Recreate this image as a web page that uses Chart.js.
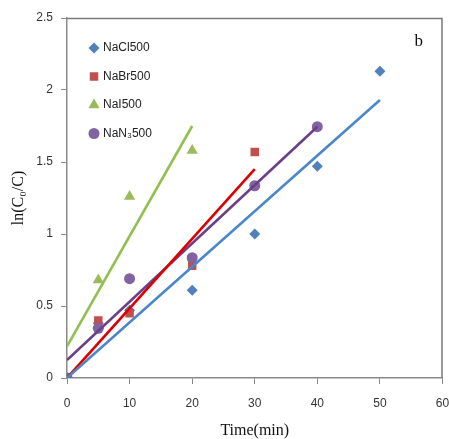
<!DOCTYPE html>
<html>
<head>
<meta charset="utf-8">
<script src="https://cdn.jsdelivr.net/npm/chart.js@4"></script>
<style>
  html, body { margin: 0; padding: 0; background: #fff; }
  #wrap { width: 449px; height: 439px; }
</style>
</head>
<body>
<div id="wrap"><canvas id="chart" width="449" height="439"></canvas></div>
<script>
// measured points, ln(C0/C) vs time
const seriesNames = ['NaCl500', 'NaBr500', 'NaI500', 'NaN\u2083500'];

const timeCl = [0, 5, 10, 20, 30, 40, 50];
const lnCl = [0, 0.38, 0.47, 0.61, 1.0, 1.47, 2.13];

const timeBr = [0, 5, 10, 20, 30];
const lnBr = [0, 0.40, 0.45, 0.78, 1.57];

const timeI = [0, 5, 10, 20];
const lnI = [0, 0.68, 1.26, 1.58];

const timeN3 = [0, 5, 10, 20, 30, 40];
const lnN3 = [0, 0.345, 0.69, 0.835, 1.335, 1.745];

// linear fits (end points)
const fitClX = [0, 50], fitClY = [0, 1.93];
const fitBrX = [0, 30], fitBrY = [0, 1.45];
const fitIX = [0, 20], fitIY = [0.22, 1.75];
const fitN3X = [0, 40], fitN3Y = [0.125, 1.745];

const xTickLabels = ['0', '10', '20', '30', '40', '50', '60'];
const yTickLabels = ['0', '0.5', '1', '1.5', '2', '2.5'];

const markerColors = ['#4F81BD', '#C0504D', '#9BBB59', '#8064A2'];
const lineColors = ['#4A86C8', '#DD0000', '#92C050', '#6B3F88'];
const markerStyles = ['rectRot', 'rect', 'triangle', 'circle'];
const markerSizes = [5.5, 6, 6.5, 5.5];

function pts(xs, ys) {
  return xs.map((x, i) => ({x: x, y: ys[i]}));
}

const markerData = [pts(timeCl, lnCl), pts(timeBr, lnBr), pts(timeI, lnI), pts(timeN3, lnN3)];
const fitData = [pts(fitClX, fitClY), pts(fitBrX, fitBrY), pts(fitIX, fitIY), pts(fitN3X, fitN3Y)];

var datasets = [];
for (i = 0; i < 4; i++) {
  datasets.push({
    label: seriesNames[i],
    data: markerData[i],
    showLine: false,
    pointStyle: markerStyles[i],
    pointRadius: markerSizes[i],
    pointBackgroundColor: markerColors[i],
    pointBorderColor: markerColors[i],
    pointBorderWidth: 0,
    order: 5 - i
  });
}
for (i = 0; i < 4; i++) {
  datasets.push({
    label: 'fit ' + seriesNames[i],
    data: fitData[i],
    showLine: true,
    borderColor: lineColors[i],
    borderWidth: 2.6,
    pointRadius: 0,
    order: 0
  });
}

// legend inside plot + "b" label + frame
const extras = {
  id: 'extras',
  afterDraw(chart) {
    const c = chart.ctx;
    const a = chart.chartArea;
    c.save();
    c.strokeStyle = '#7a7a7a';
    c.lineWidth = 1.5;
    c.beginPath();
    c.moveTo(a.left, a.top + 0.5);
    c.lineTo(a.right - 0.5, a.top + 0.5);
    c.lineTo(a.right - 0.5, a.bottom);
    c.stroke();

    c.font = '12px "Liberation Sans", Arial, sans-serif';
    c.textBaseline = 'middle';
    for (let k = 0; k < 4; k++) {
      const y = a.top + 30 + k * 28.5;
      c.fillStyle = markerColors[k];
      Chart.helpers.drawPoint(c, {pointStyle: markerStyles[k], radius: markerSizes[k], borderWidth: 0}, a.left + 27, y);
      c.fillStyle = '#222';
      c.fillText(seriesNames[k], a.left + 36, y);
    }

    c.font = '17px "Liberation Serif", "Times New Roman", serif';
    c.fillStyle = '#111';
    c.fillText('b', a.right - 28, a.top + 24);
    c.restore();
  }
};

const ctx = document.getElementById('chart').getContext('2d');
const chart = new Chart(ctx, {
  type: 'scatter',
  data: { datasets: datasets },
  options: {
    responsive: false,
    animation: false,
    layout: { padding: { left: 0, right: 5, top: 18, bottom: 0 } },
    plugins: {
      legend: { display: false },
      tooltip: { enabled: false }
    },
    scales: {
      x: {
        type: 'linear',
        min: 0,
        max: 60,
        afterFit: (scale) => { scale.height = 61; scale.paddingRight = 0; scale.paddingLeft = 0; },
        ticks: {
          stepSize: 10,
          padding: 12,
          color: '#333',
          font: { family: '"Liberation Sans", Arial, sans-serif', size: 12 },
          callback: (v) => xTickLabels[Math.round(v / 10)]
        },
        grid: { drawOnChartArea: false, tickLength: 6, color: '#8a8a8a' },
        border: { color: '#8a8a8a', width: 1.5 },
        title: {
          display: true,
          text: 'Time(min)',
          color: '#111',
          padding: { top: 0, bottom: 0 },
          font: { family: '"Liberation Serif", "Times New Roman", serif', size: 16, lineHeight: 1 }
        }
      },
      y: {
        min: 0,
        max: 2.5,
        afterFit: (scale) => { scale.width = 67; },
        ticks: {
          stepSize: 0.5,
          padding: 8,
          color: '#333',
          font: { family: '"Liberation Sans", Arial, sans-serif', size: 12 },
          callback: (v) => yTickLabels[Math.round(v * 2)]
        },
        grid: { drawOnChartArea: false, tickLength: 6, color: '#8a8a8a' },
        border: { color: '#8a8a8a', width: 1.5 },
        title: {
          display: true,
          text: 'ln(C\u2080/C)',
          color: '#111',
          padding: { top: 9, bottom: 0 },
          font: { family: '"Liberation Serif", "Times New Roman", serif', size: 16, lineHeight: 1.2 }
        }
      }
    }
  },
  plugins: [extras]
});
</script>
</body>
</html>
